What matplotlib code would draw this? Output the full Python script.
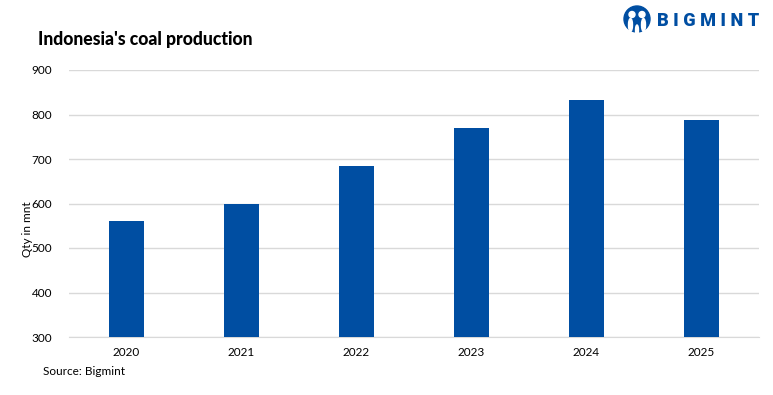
import matplotlib
matplotlib.use("Agg")
import matplotlib.pyplot as plt
from matplotlib.patches import Circle, Ellipse

years = ["2020", "2021", "2022", "2023", "2024", "2025"]
production = [560, 600, 685, 769, 832, 787]
yticks = [300, 400, 500, 600, 700, 800, 900]
title = "Indonesia's coal production"
ylabel = "Qty in mnt"
source = "Source: Bigmint"
logo_text = "B I G M I N T"

BLUE = "#004EA2"
W, H = 773, 395
plt.rcParams["font.family"] = ["Lato", "DejaVu Sans"]
fig = plt.figure(figsize=(W / 100, H / 100), dpi=100, facecolor="white")

L, R, T, B = 69, 759, 70, 337
ax = fig.add_axes([L / W, 1 - B / H, (R - L) / W, (B - T) / H])
ax.bar(range(len(years)), production, width=0.302, color=BLUE, zorder=3)
ax.set_xlim(-0.5, 5.5)
ax.set_ylim(300, 900)
ax.set_yticks(yticks)
ax.set_xticks(range(len(years)), years)
ax.grid(axis="y", color="#D9D9D9", lw=1, zorder=0)
ax.tick_params(length=0, labelsize=8.5, colors="black")
ax.tick_params(axis="x", pad=7)
ax.tick_params(axis="y", pad=12)
for s in ["top", "right", "left"]:
    ax.spines[s].set_visible(False)
ax.spines["bottom"].set_color("#D9D9D9")

fig.text(28 / W, 1 - 229 / H, ylabel, rotation=90, fontsize=8.5, ha="center", va="center")
fig.text(38 / W, 1 - 39 / H, title, fontsize=12.7, fontweight="black", ha="left", va="center")
fig.text(43 / W, 1 - 371.5 / H, source, fontsize=8.5, ha="left", va="center")
fig.text(657 / W, 1 - 21 / H, logo_text, fontsize=13.1, fontweight="black", color=BLUE,
         ha="left", va="center", family="Roboto")

# logo emblem drawn in pixel coordinates
ov = fig.add_axes([0, 0, 1, 1], facecolor="none")
ov.set_xlim(0, W)
ov.set_ylim(H, 0)
ov.axis("off")
ov.add_patch(Circle((637, 19), 13, color=BLUE))
ov.add_patch(Circle((632, 14.5), 3, color="white"))
ov.add_patch(Circle((642, 14.5), 3, color="white"))
ov.add_patch(Ellipse((630.5, 25), 4, 13, color="white"))
ov.add_patch(Ellipse((643.5, 25), 4, 13, color="white"))
ov.add_patch(Ellipse((637, 30), 3, 10, color="white"))

fig.savefig("out.png", dpi=100)
